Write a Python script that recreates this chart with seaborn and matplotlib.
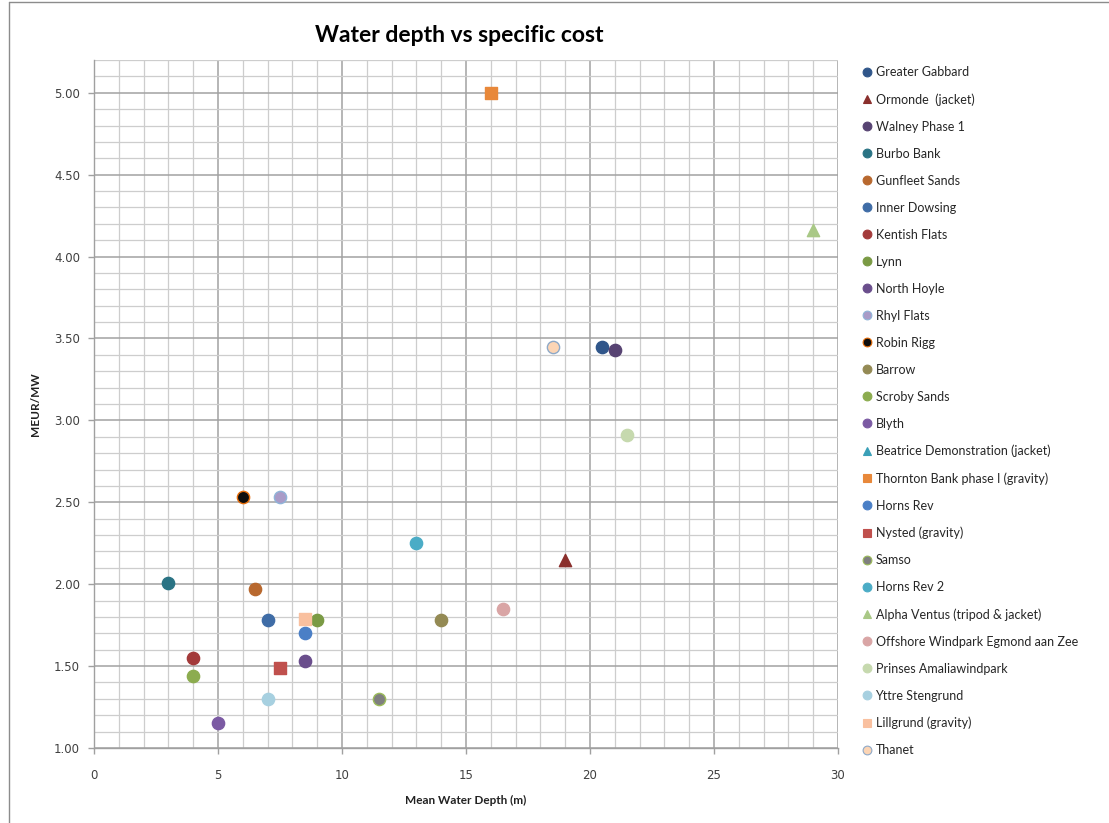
import numpy as np
import matplotlib
matplotlib.use("Agg")
import matplotlib.pyplot as plt
from matplotlib.lines import Line2D
from matplotlib.ticker import MultipleLocator, FormatStrFormatter
import seaborn as sns

# Offshore wind farms: mean water depth (m) vs specific cost (MEUR/MW)
farms = [
    "Greater Gabbard", "Ormonde  (jacket)", "Walney Phase 1", "Burbo Bank",
    "Gunfleet Sands", "Inner Dowsing", "Kentish Flats", "Lynn", "North Hoyle",
    "Rhyl Flats", "Robin Rigg", "Barrow", "Scroby Sands", "Blyth",
    "Beatrice Demonstration (jacket)", "Thornton Bank phase I (gravity)",
    "Horns Rev", "Nysted (gravity)", "Samso", "Horns Rev 2",
    "Alpha Ventus (tripod & jacket)", "Offshore Windpark Egmond aan Zee",
    "Prinses Amaliawindpark", "Yttre Stengrund", "Lillgrund (gravity)", "Thanet",
]
depth = [20.5, 19.0, 21.0, 3.0, 6.5, 7.0, 4.0, 9.0, 8.5, 7.5, 6.0, 14.0, 4.0,
         5.0, np.nan, 16.0, 8.5, 7.5, 11.5, 13.0, 29.0, 16.5, 21.5, 7.0, 8.5, 18.5]
cost = [3.45, 2.15, 3.43, 2.01, 1.97, 1.78, 1.55, 1.78, 1.53, 2.53, 2.53, 1.78,
        1.44, 1.15, np.nan, 5.00, 1.70, 1.49, 1.30, 2.25, 4.16, 1.85, 2.91,
        1.30, 1.79, 3.45]

markers = ["o", "^", "o", "o", "o", "o", "o", "o", "o", "o", "o", "o", "o", "o",
           "^", "s", "o", "s", "o", "o", "^", "o", "o", "o", "s", "o"]
fills = ["#30568a", "#8a2f2c", "#574372", "#2a7384", "#b8682e", "#3f6ca6",
         "#a33a3a", "#7a9a44", "#6a4e8c", "#a99bc7", "#0d0d0d", "#948a54",
         "#8cac4f", "#7b5aa3", "#3aa0b8", "#e8883a", "#4a7fc6", "#c0504d",
         "#7f7f7f", "#4bacc6", "#a9c886", "#d9a5a5", "#c6d9ae", "#a7d0e0",
         "#f9c09f", "#fcd5b5"]
edges = list(fills)
edges[9] = "#8fb4d8"
edges[10] = "#e46c0a"
edges[18] = "#9bbb59"
edges[25] = "#8ea9c8"

sns.set_theme(style="white")
plt.rcParams["font.family"] = ["DejaVu Sans"]

fig = plt.figure(figsize=(11.09, 8.23), dpi=100)
ax = fig.add_axes([94 / 1109, 1 - 748 / 823, (838 - 94) / 1109, (748 - 60) / 823])

for i, name in enumerate(farms):
    if np.isnan(depth[i]):
        continue
    sns.scatterplot(x=[depth[i]], y=[cost[i]], ax=ax, marker=markers[i],
                    s=78 if markers[i] != "s" else 70, color=fills[i],
                    edgecolor=edges[i], linewidth=1.0, zorder=3 + i,
                    legend=False)

ax.set_xlim(0, 30)
ax.set_ylim(1.0, 5.2)
ax.xaxis.set_major_locator(MultipleLocator(5))
ax.xaxis.set_minor_locator(MultipleLocator(1))
ax.yaxis.set_major_locator(MultipleLocator(0.5))
ax.yaxis.set_minor_locator(MultipleLocator(0.1))
ax.yaxis.set_major_formatter(FormatStrFormatter("%.2f"))

ax.grid(which="minor", color="#cdcdcd", linewidth=0.9)
ax.grid(which="major", color="#a2a2a2", linewidth=1.1)
ax.set_axisbelow(True)
for side in ["top", "right"]:
    ax.spines[side].set_visible(False)
for side in ["left", "bottom"]:
    ax.spines[side].set_color("#a0a0a0")
    ax.spines[side].set_linewidth(1.0)

ax.tick_params(axis="both", which="major", direction="out", length=4,
               width=1.0, color="#a0a0a0", labelsize=8.5, labelcolor="#404040")
ax.tick_params(axis="y", which="major", left=True, pad=6)
ax.tick_params(axis="x", which="major", bottom=True, pad=11)
ax.tick_params(which="minor", length=0)

ax.set_xlabel("")
ax.set_ylabel("")
fig.text(466 / 1109, 1 - 800 / 823, "Mean Water Depth (m)", ha="center",
         va="center", fontsize=8.5, fontweight="bold", family="Lato",
         color="#222222")
fig.text(35 / 1109, 1 - 404 / 823, "MEUR/MW", ha="center", va="center",
         rotation=90, fontsize=8.5, fontweight="bold", family="Lato",
         color="#222222")
fig.text(459 / 1109, 1 - 36 / 823, "Water depth vs specific cost", ha="center",
         va="center", fontsize=16.5, fontweight="bold", family="Lato",
         color="#000000")

handles = [Line2D([], [], linestyle="none", marker=markers[i],
                  markerfacecolor=fills[i], markeredgecolor=edges[i],
                  markersize=6.3 if markers[i] != "s" else 6,
                  markeredgewidth=0.8)
           for i in range(len(farms))]
leg = fig.legend(handles, farms, loc="upper left",
                 bbox_to_anchor=(863 / 1109, 1 - 66 / 823), frameon=False,
                 prop={"family": "Lato", "size": 9}, labelspacing=1.20,
                 handlelength=0.7, handletextpad=0.3, borderpad=0,
                 borderaxespad=0)
for t in leg.get_texts():
    t.set_color("#262626")

# chart frame
fig.add_artist(Line2D([9 / 1109, 9 / 1109], [0, 1 - 2 / 823],
                      transform=fig.transFigure, color="#8c8c8c", lw=1.0))
fig.add_artist(Line2D([9 / 1109, 1], [1 - 2 / 823, 1 - 2 / 823],
                      transform=fig.transFigure, color="#8c8c8c", lw=1.0))

fig.savefig("out.png", dpi=100)
